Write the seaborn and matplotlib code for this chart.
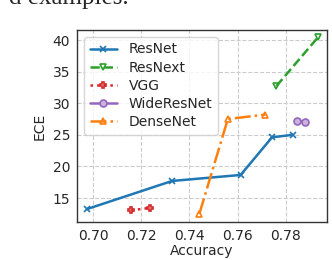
import pandas as pd
import matplotlib
matplotlib.use("Agg")
import matplotlib.pyplot as plt
import seaborn as sns

# accuracy / ECE pairs
resnet_acc = [0.6975, 0.7328, 0.7612, 0.7742, 0.7827]
resnet_ece = [13.25, 17.7, 18.65, 24.6, 25.0]
resnext_acc = [0.7760, 0.7932]
resnext_ece = [32.7, 40.4]
vgg_acc = [0.7159, 0.7237]
vgg_ece = [13.05, 13.45]
wrn_acc = [0.7846, 0.7880]
wrn_ece = [27.25, 27.05]
densenet_acc = [0.7441, 0.7559, 0.7715]
densenet_ece = [12.5, 27.5, 28.2]

models = ["ResNet", "ResNext", "VGG", "WideResNet", "DenseNet"]
accs = [resnet_acc, resnext_acc, vgg_acc, wrn_acc, densenet_acc]
eces = [resnet_ece, resnext_ece, vgg_ece, wrn_ece, densenet_ece]

rows = []
for m, a, e in zip(models, accs, eces):
    for x, y in zip(a, e):
        rows.append({"model": m, "Accuracy": x, "ECE": y})
df = pd.DataFrame(rows)

sns.set_style("whitegrid", {"grid.linestyle": "--", "grid.color": "#cccccc",
                            "axes.edgecolor": "#333333"})
plt.rcParams["font.family"] = ["DejaVu Sans"]
plt.rcParams["font.size"] = 10

pal = sns.color_palette("tab10")
styles = {
    "ResNet": dict(color=pal[0], ls="-", marker="x", mfc=pal[0]),
    "ResNext": dict(color=pal[2], ls="--", marker="v", mfc="none"),
    "VGG": dict(color=pal[3], ls=":", marker="P", mfc="none"),
    "WideResNet": dict(color=pal[4], ls="-", marker="o", mfc="#c9b3dd"),
    "DenseNet": dict(color=pal[1], ls="-.", marker="^", mfc="none"),
}

fig = plt.figure(figsize=(3.32, 2.6), dpi=100)
ax = fig.add_axes([0.232, 0.146, 0.753, 0.739])

for m in models:
    s = styles[m]
    sns.lineplot(data=df[df["model"] == m], x="Accuracy", y="ECE", ax=ax,
                 color=s["color"], linestyle=s["ls"], marker=s["marker"],
                 markerfacecolor=s["mfc"], markeredgecolor=s["color"],
                 markeredgewidth=1.2, markersize=5, linewidth=1.8, label=m)

ax.set_xlim(0.6934, 0.797)
ax.set_ylim(11.2, 41.6)
ax.set_xticks([0.70, 0.72, 0.74, 0.76, 0.78])
ax.set_yticks([15, 20, 25, 30, 35, 40])
ax.set_xticklabels(["0.70", "0.72", "0.74", "0.76", "0.78"])
ax.tick_params(labelsize=10, length=3, pad=2)
ax.set_xlabel("Accuracy", fontsize=10, labelpad=1)
ax.set_ylabel("ECE", fontsize=10, labelpad=4)
for sp in ax.spines.values():
    sp.set_linewidth(1.0)
ax.legend(loc="upper left", fontsize=10, frameon=True, framealpha=0.8,
          borderpad=0.4, labelspacing=0.3, handlelength=2.0)

# clipped caption text from the page above the figure
fig.text(9 / 332, 1 - 4 / 260, "d examples.", family="Liberation Serif",
         fontsize=18, va="baseline")

fig.savefig("out.png", dpi=100)
